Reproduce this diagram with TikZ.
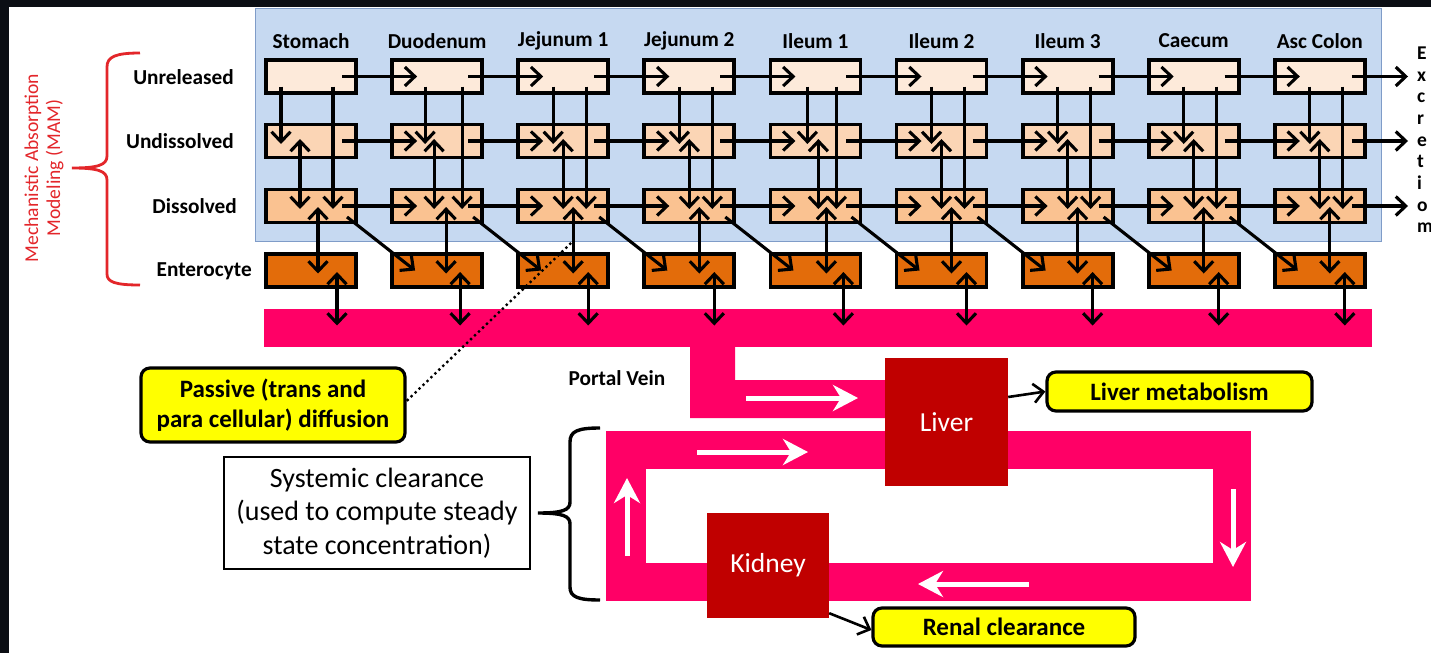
\documentclass[tikz,border=0pt]{standalone}
\usepackage{fontspec}
\setmainfont{Carlito}
\usetikzlibrary{arrows.meta,calc}
\definecolor{bgdark}{HTML}{0B0E14}
\definecolor{panel}{HTML}{C6D9F1}
\definecolor{panelb}{HTML}{7F9CC8}
\definecolor{unrel}{HTML}{FDEADA}
\definecolor{undis}{HTML}{FBD5B5}
\definecolor{dis}{HTML}{FAC291}
\definecolor{ent}{HTML}{E36C0A}
\definecolor{pinkv}{HTML}{FF0066}
\definecolor{organ}{HTML}{C00000}
\definecolor{mamred}{HTML}{E3262A}
\definecolor{yel}{HTML}{FFFF00}
\begin{document}
\begin{tikzpicture}[x=1pt,y=-1pt,
  cbox/.style={draw=black,line width=3.8pt,minimum width=90pt,minimum height=33pt,inner sep=0pt},
  arr/.style={line width=3.1pt,-{Straight Barb[length=10pt,width=19pt]}},
  darr/.style={line width=3.1pt,{Straight Barb[length=10pt,width=19pt]}-{Straight Barb[length=10pt,width=19pt]}},
  lab/.style={font=\fontsize{21.3}{24}\selectfont\bfseries,inner sep=0pt},
  yelbox/.style={draw=black,line width=3.2pt,fill=yel,rounded corners=9pt,inner sep=0pt,align=center,font=\fontsize{25}{30}\selectfont\bfseries},
  organbox/.style={fill=organ,text=white,inner sep=0pt,font=\fontsize{27.5}{30}\selectfont},
  warr/.style={draw=white,line width=5pt,-{Stealth[length=25pt,width=26pt,inset=8pt]}},
  dotline/.style={line width=3.3pt,dash pattern=on 0pt off 5.5pt,line cap=round}
]
\fill[bgdark] (0,0) rectangle (1431,653);
\fill[white] (9,7) rectangle (1431,653);
\useasboundingbox (0,0) rectangle (1431,653);

% panel
\node[draw=panelb,line width=1pt,fill=panel,minimum width=1126pt,minimum height=233pt,inner sep=0pt] (panel) at (818,124.5) {};

% MAM label and brace
\node[rotate=90,align=center,text=mamred,font=\fontsize{19.6}{22}\selectfont,inner sep=0pt] (mam) at (44,168) {Mechanistic Absorption\\Modeling (MAM)};
\draw[mamred,line width=2.8pt] (140,53) .. controls (115,53) and (107,57) .. (107,67) -- (107,156)
  .. controls (107,165) and (98,168) .. (72,168) .. controls (98,168) and (107,171) .. (107,180)
  -- (107,274) .. controls (107,282) and (115,285) .. (140,285);

% row labels
\node[lab,anchor=east] (lu) at (234,77) {Unreleased};
\node[lab,anchor=east] (ls) at (234,141) {Undissolved};
\node[lab,anchor=east] (ld) at (237,206) {Dissolved};
\node[lab,anchor=east] (le) at (252,271) {Enterocyte};

% pink bar
\node[fill=pinkv,minimum width=1108pt,minimum height=38pt,inner sep=0pt] (bar) at (818,328) {};

% boxes
\foreach \n [count=\i] in {Stomach,Duodenum,Jejunum 1,Jejunum 2,Ileum 1,Ileum 2,Ileum 3,Caecum,Asc Colon}{
  \pgfmathsetmacro\xc{311+126.1*(\i-1)}
  \node[lab] (t\i) at (\xc,41) {\n};
  \node[cbox,fill=unrel] (u\i) at (\xc,76.5) {};
  \node[cbox,fill=undis] (s\i) at (\xc,141) {};
  \node[cbox,fill=dis] (d\i) at (\xc,206) {};
  \node[cbox,fill=ent] (e\i) at (\xc,270.5) {};
}

% vertical arrows
\foreach \i/\a/\b/\c/\d/\e in {1/-30/22/-11/7/26,2/-12/25/-3/9/23,3/-10/23/0/10/25,4/-10/23/0/10/25,5/-8/21/3/11/28,6/-10/23/0/10/25,7/-10/23/0/10/25,8/-10/23/0/10/25,9/-10/23/0/10/25}{
  \draw[arr] ($(u\i)+(\a,10)$) -- ($(s\i)+(\a,3)$);
  \draw[arr] ($(u\i)+(\b,10)$) -- ($(d\i)+(\b,3)$);
  \draw[darr] ($(s\i)+(\c,-2)$) -- ($(d\i)+(\c,3)$);
  \draw[darr] ($(d\i)+(\d,1)$) -- ($(e\i)+(\d,3)$);
  \draw[darr] ($(e\i)+(\e,1.5)$) -- ($(e\i)+(\e,55)$);
}

% horizontal and diagonal arrows
\foreach \i in {1,...,8}{
  \pgfmathtruncatemacro\j{\i+1}
  \draw[arr] ($(u\i)+(31,0)$) -- ($(u\j)+(-20,0)$);
  \draw[arr] ($(s\i)+(31,0)$) -- ($(s\j)+(-20,0)$);
  \draw[arr] ($(d\i)+(31,0)$) -- ($(d\j)+(-20,0)$);
  \draw[arr] ($(d\i)+(36,11)$) -- ($(e\j)+(-22,0)$);
}

% outputs on the right
\coordinate (o1) at (1408,76.5);
\coordinate (o2) at (1408,141);
\coordinate (o3) at (1408,206);
\draw[arr] ($(u9)+(32,0)$) -- (o1);
\draw[arr] ($(s9)+(32,0)$) -- (o2);
\draw[arr] ($(d9)+(32,0)$) -- (o3);
\node[anchor=north west,align=left,inner sep=0pt,font=\fontsize{19.5}{21.7}\selectfont\bfseries] (exc) at (1417,46.5) {E\\x\\c\\r\\e\\t\\i\\o\\m};

% portal vein and circulation
\fill[pinkv] (690,345) -- (735,345) -- (735,380) -- (885,380) -- (885,418) -- (690,418) -- cycle;
\node[lab] (pv) at (617,378) {Portal Vein};
\fill[pinkv] (606,431) rectangle (1251,601);
\fill[white] (646,469) rectangle (1213,563);

\coordinate (w1a) at (746,398); \coordinate (w1b) at (858,398);
\coordinate (w2a) at (697,452); \coordinate (w2b) at (808,452);
\coordinate (w3a) at (627,556); \coordinate (w3b) at (627,478);
\coordinate (w4a) at (1233,489); \coordinate (w4b) at (1233,567);
\coordinate (w5a) at (1029,584); \coordinate (w5b) at (918,584);
\draw[warr] (w1a) -- (w1b);
\draw[warr] (w2a) -- (w2b);
\draw[warr] (w3a) -- (w3b);
\draw[warr] (w4a) -- (w4b);
\draw[warr] (w5a) -- (w5b);

\node[organbox,minimum width=123pt,minimum height=128pt] (liver) at (946.5,422) {Liver};
\node[organbox,minimum width=122pt,minimum height=105pt] (kidney) at (768,565.5) {Kidney};

\node[yelbox,minimum width=265pt,minimum height=39pt] (lm) at (1179.5,391.5) {Liver metabolism};
\node[yelbox,minimum width=262pt,minimum height=38pt] (renal) at (1004,627) {Renal clearance};
\node[yelbox,minimum width=264pt,minimum height=74pt] (passive) at (273,405) {Passive (trans and\\para cellular) diffusion};

\draw[arr,line width=2.6pt] ($(liver.east)+(0,-25)$) -- (lm.west);
\draw[arr,line width=2.6pt] ($(kidney.south east)+(0,-5)$) -- ($(renal.west)+(0,3)$);

\draw[dotline] ($(passive.east)+(1,-5)$) -- ($(d3)+(10,35)$);

% systemic clearance
\node[draw=black,line width=1.4pt,minimum width=306pt,minimum height=112pt,inner sep=0pt,align=center,font=\fontsize{28}{33.5}\selectfont] (sys) at (377,513) {Systemic clearance\\(used to compute steady\\state concentration)};
\draw[line width=3.4pt] (600,428) .. controls (578,428) and (570,431) .. (570,442) -- (570,502)
  .. controls (570,510) and (563,513) .. (538,513) .. controls (563,513) and (570,516) .. (570,524)
  -- (570,587) .. controls (570,597) and (578,600) .. (600,600);
\end{tikzpicture}
\end{document}
